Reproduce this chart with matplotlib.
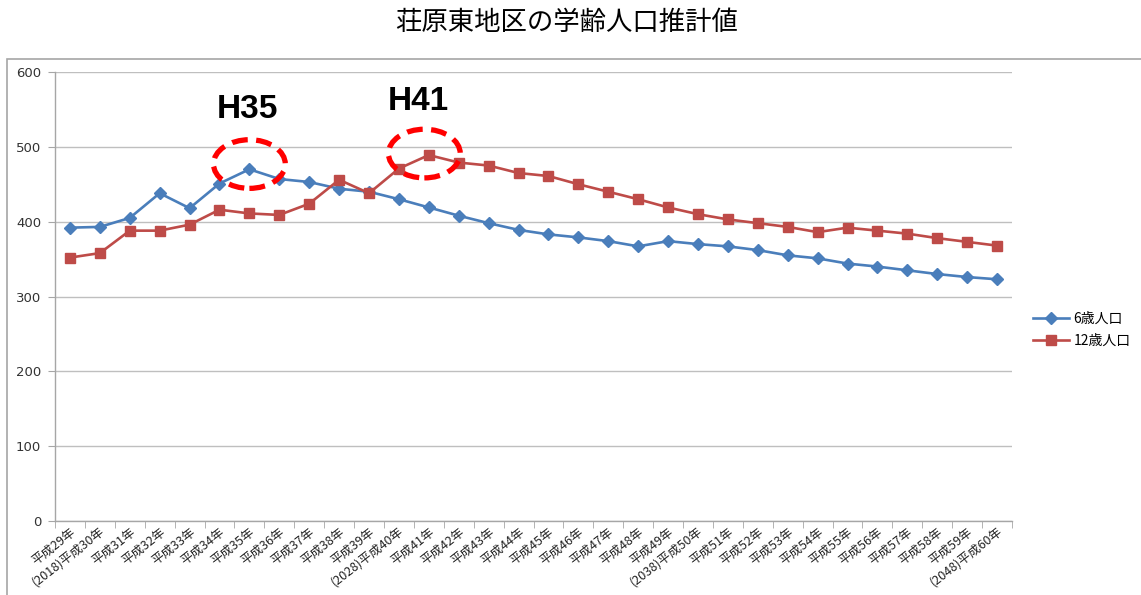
import matplotlib
matplotlib.use("Agg")
import matplotlib.pyplot as plt
from matplotlib.patches import Ellipse, Rectangle

plt.rcParams['font.family'] = ['Noto Sans CJK JP', 'DejaVu Sans']

title = "荘原東地区の学齢人口推計値"
categories = [
    "平成29年", "(2018)平成30年", "平成31年", "平成32年", "平成33年", "平成34年",
    "平成35年", "平成36年", "平成37年", "平成38年", "平成39年", "(2028)平成40年",
    "平成41年", "平成42年", "平成43年", "平成44年", "平成45年", "平成46年",
    "平成47年", "平成48年", "平成49年", "(2038)平成50年", "平成51年", "平成52年",
    "平成53年", "平成54年", "平成55年", "平成56年", "平成57年", "平成58年",
    "平成59年", "(2048)平成60年",
]
age6 = [392, 393, 405, 438, 418, 451, 470, 457, 453, 444, 440, 430,
        419, 408, 398, 389, 383, 379, 374, 367, 374, 370, 367, 362,
        355, 351, 344, 340, 335, 330, 326, 323]
age12 = [352, 358, 388, 388, 396, 416, 411, 409, 424, 456, 438, 471,
         489, 479, 475, 465, 461, 450, 440, 430, 419, 410, 403, 398,
         393, 386, 392, 388, 384, 378, 373, 368]
series_names = ["6歳人口", "12歳人口"]
yticks = [0, 100, 200, 300, 400, 500, 600]
notes = ["H35", "H41"]
note_idx = [6, 12]

W, H = 1141, 595
fig = plt.figure(figsize=(W / 100, H / 100), dpi=100)

# outer chart frame
fig.patches.append(Rectangle((7 / W, -0.1), 1.2, (1 - 59 / H) + 0.1, transform=fig.transFigure,
                             fill=False, edgecolor='#A6A6A6', linewidth=1.2))

ax = fig.add_axes([55 / W, 1 - 521 / H, (1012 - 55) / W, (521 - 72) / H])

x = list(range(len(categories)))
blue = '#4A7EBB'
red = '#BE4B48'
ax.plot(x, age6, color=blue, linewidth=1.9, marker='D', markersize=6.5,
        label=series_names[0], zorder=3)
ax.plot(x, age12, color=red, linewidth=1.9, marker='s', markersize=7.5,
        label=series_names[1], zorder=3)

ax.set_xlim(-0.5, len(categories) - 0.5)
ax.set_ylim(0, 600)
ax.set_yticks(yticks)
ax.set_yticklabels([str(v) for v in yticks], fontsize=9.5, color='#333333',
                   family=['DejaVu Sans'])
ax.yaxis.grid(True, color='#BFBFBF', linewidth=1.0)
ax.set_axisbelow(True)

ax.set_xticks(x)
ax.set_xticklabels(categories, rotation=38, ha='right', va='top',
                   rotation_mode='anchor', fontsize=9, color='#222222')
ax.set_xticks([i - 0.5 for i in range(len(categories) + 1)], minor=True)
ax.tick_params(axis='x', which='major', length=0, pad=3)
ax.tick_params(axis='x', which='minor', length=5, color='#A6A6A6', direction='out')
ax.tick_params(axis='y', length=5, color='#A6A6A6', direction='out', pad=5)

for s in ['top', 'right']:
    ax.spines[s].set_visible(False)
for s in ['left', 'bottom']:
    ax.spines[s].set_color('#A6A6A6')
    ax.spines[s].set_linewidth(1.0)

# annotations
ax.add_patch(Ellipse((note_idx[0], age6[note_idx[0]] + 7), 2.4, 65, fill=False,
                     edgecolor='#FF0000', linewidth=3.8, linestyle=(0, (3, 1.6)), zorder=4))
ax.add_patch(Ellipse((note_idx[1] - 0.15, age12[note_idx[1]] + 2), 2.4, 65, fill=False,
                     edgecolor='#FF0000', linewidth=3.8, linestyle=(0, (3, 1.6)), zorder=4))
ax.text(note_idx[0] - 0.05, age6[note_idx[0]] + 80, notes[0], fontsize=24, fontweight='bold',
        family=['Liberation Sans'], ha='center', va='center', color='black')
ax.text(note_idx[1] - 0.35, age12[note_idx[1]] + 71, notes[1], fontsize=24, fontweight='bold',
        family=['Liberation Sans'], ha='center', va='center', color='black')

fig.text(567 / W, 1 - 22 / H, title, fontsize=19, ha='center', va='center', color='black')

fig.legend(loc='center left', bbox_to_anchor=(1033 / W, 1 - 330 / H), frameon=False,
           fontsize=10, handlelength=2.6, handletextpad=0.3, labelspacing=0.6,
           borderaxespad=0, borderpad=0)

fig.savefig('out.png', dpi=100)
